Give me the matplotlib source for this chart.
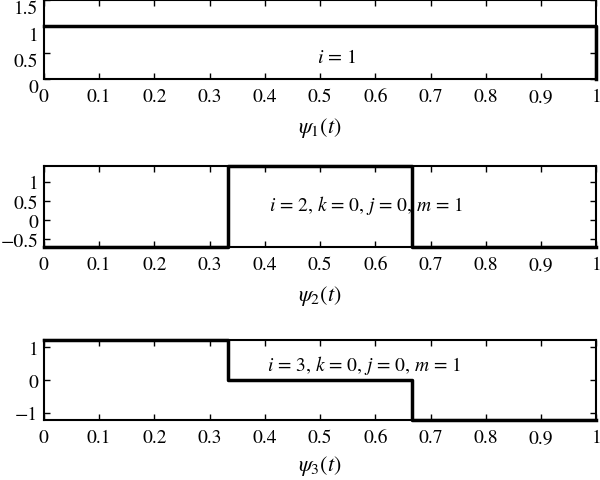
import matplotlib
matplotlib.use("Agg")
import matplotlib.pyplot as plt
import matplotlib.transforms as mtransforms
import numpy as np

plt.rcParams['font.family'] = ['STIXGeneral', 'DejaVu Serif']
plt.rcParams['mathtext.fontset'] = 'stix'

# data: breakpoints and step values
t1 = [0.0, 1.0, 1.0]
psi1 = [1.0, 1.0, 0.0]
t2 = [0.0, 1/3, 1/3, 2/3, 2/3, 1.0]
psi2 = [-0.7071, -0.7071, 1.4142, 1.4142, -0.7071, -0.7071]
t3 = [0.0, 1/3, 1/3, 2/3, 2/3, 1.0]
psi3 = [1.2247, 1.2247, 0.0, 0.0, -1.2247, -1.2247]

xticks = [0, 0.1, 0.2, 0.3, 0.4, 0.5, 0.6, 0.7, 0.8, 0.9, 1]
xticklabels = ['0', '0.1', '0.2', '0.3', '0.4', '0.5', '0.6', '0.7', '0.8', '0.9', '1']
yticks1 = [0, 0.5, 1, 1.5]
yticklabels1 = ['0', '0.5', '1', '1.5']
yticks2 = [-0.5, 0, 0.5, 1]
yticklabels2 = ['\u22120.5', '0', '0.5', '1']
yticks3 = [-1, 0, 1]
yticklabels3 = ['\u22121', '0', '1']

fig = plt.figure(figsize=(6.0, 4.81), dpi=100)
L, R = 0.073, 0.994
ax1 = fig.add_axes([L, 0.834, R - L, 0.164])
ax2 = fig.add_axes([L, 0.484, R - L, 0.169])
ax3 = fig.add_axes([L, 0.125, R - L, 0.166])

def style(ax):
    ax.tick_params(direction='in', top=True, right=True, length=4, width=1.0,
                   labelsize=14, pad=4)
    ax.tick_params(axis='x', pad=6.5)
    for s in ax.spines.values():
        s.set_linewidth(1.5)
    ax.set_xlim(0, 1)
    ax.set_xticks(xticks)
    ax.set_xticklabels(xticklabels)

ax1.plot(t1, psi1, color='black', lw=2.5, clip_on=False)
style(ax1)
ax1.set_ylim(0, 1.5)
ax1.set_yticks(yticks1)
ax1.set_yticklabels(yticklabels1)
offset = mtransforms.ScaledTranslation(0, -5/72, fig.dpi_scale_trans)
for lab in ax1.get_yticklabels():
    lab.set_transform(lab.get_transform() + offset)
ax1.text(0.53, 0.41, r'$i$ = 1', fontsize=14.5, ha='center', va='center')
ax1.set_xlabel(r'$\psi_1(t)$', fontsize=16, labelpad=7)

ax2.plot(t2, psi2, color='black', lw=2.5, clip_on=False)
style(ax2)
ax2.set_ylim(-0.7071, 1.4142)
ax2.set_yticks(yticks2)
ax2.set_yticklabels(yticklabels2)
ax2.text(0.584, 0.42, r'$i$ = 2, $k$ = 0, $j$ = 0, $m$ = 1', fontsize=14,
         ha='center', va='center')
ax2.set_xlabel(r'$\psi_2(t)$', fontsize=16, labelpad=7)

ax3.plot(t3, psi3, color='black', lw=2.5, clip_on=False)
style(ax3)
ax3.set_ylim(-1.2247, 1.2247)
ax3.set_yticks(yticks3)
ax3.set_yticklabels(yticklabels3)
ax3.text(0.58, 0.48, r'$i$ = 3, $k$ = 0, $j$ = 0, $m$ = 1', fontsize=14,
         ha='center', va='center')
ax3.set_xlabel(r'$\psi_3(t)$', fontsize=16, labelpad=5)

fig.savefig('out.png', dpi=100)
